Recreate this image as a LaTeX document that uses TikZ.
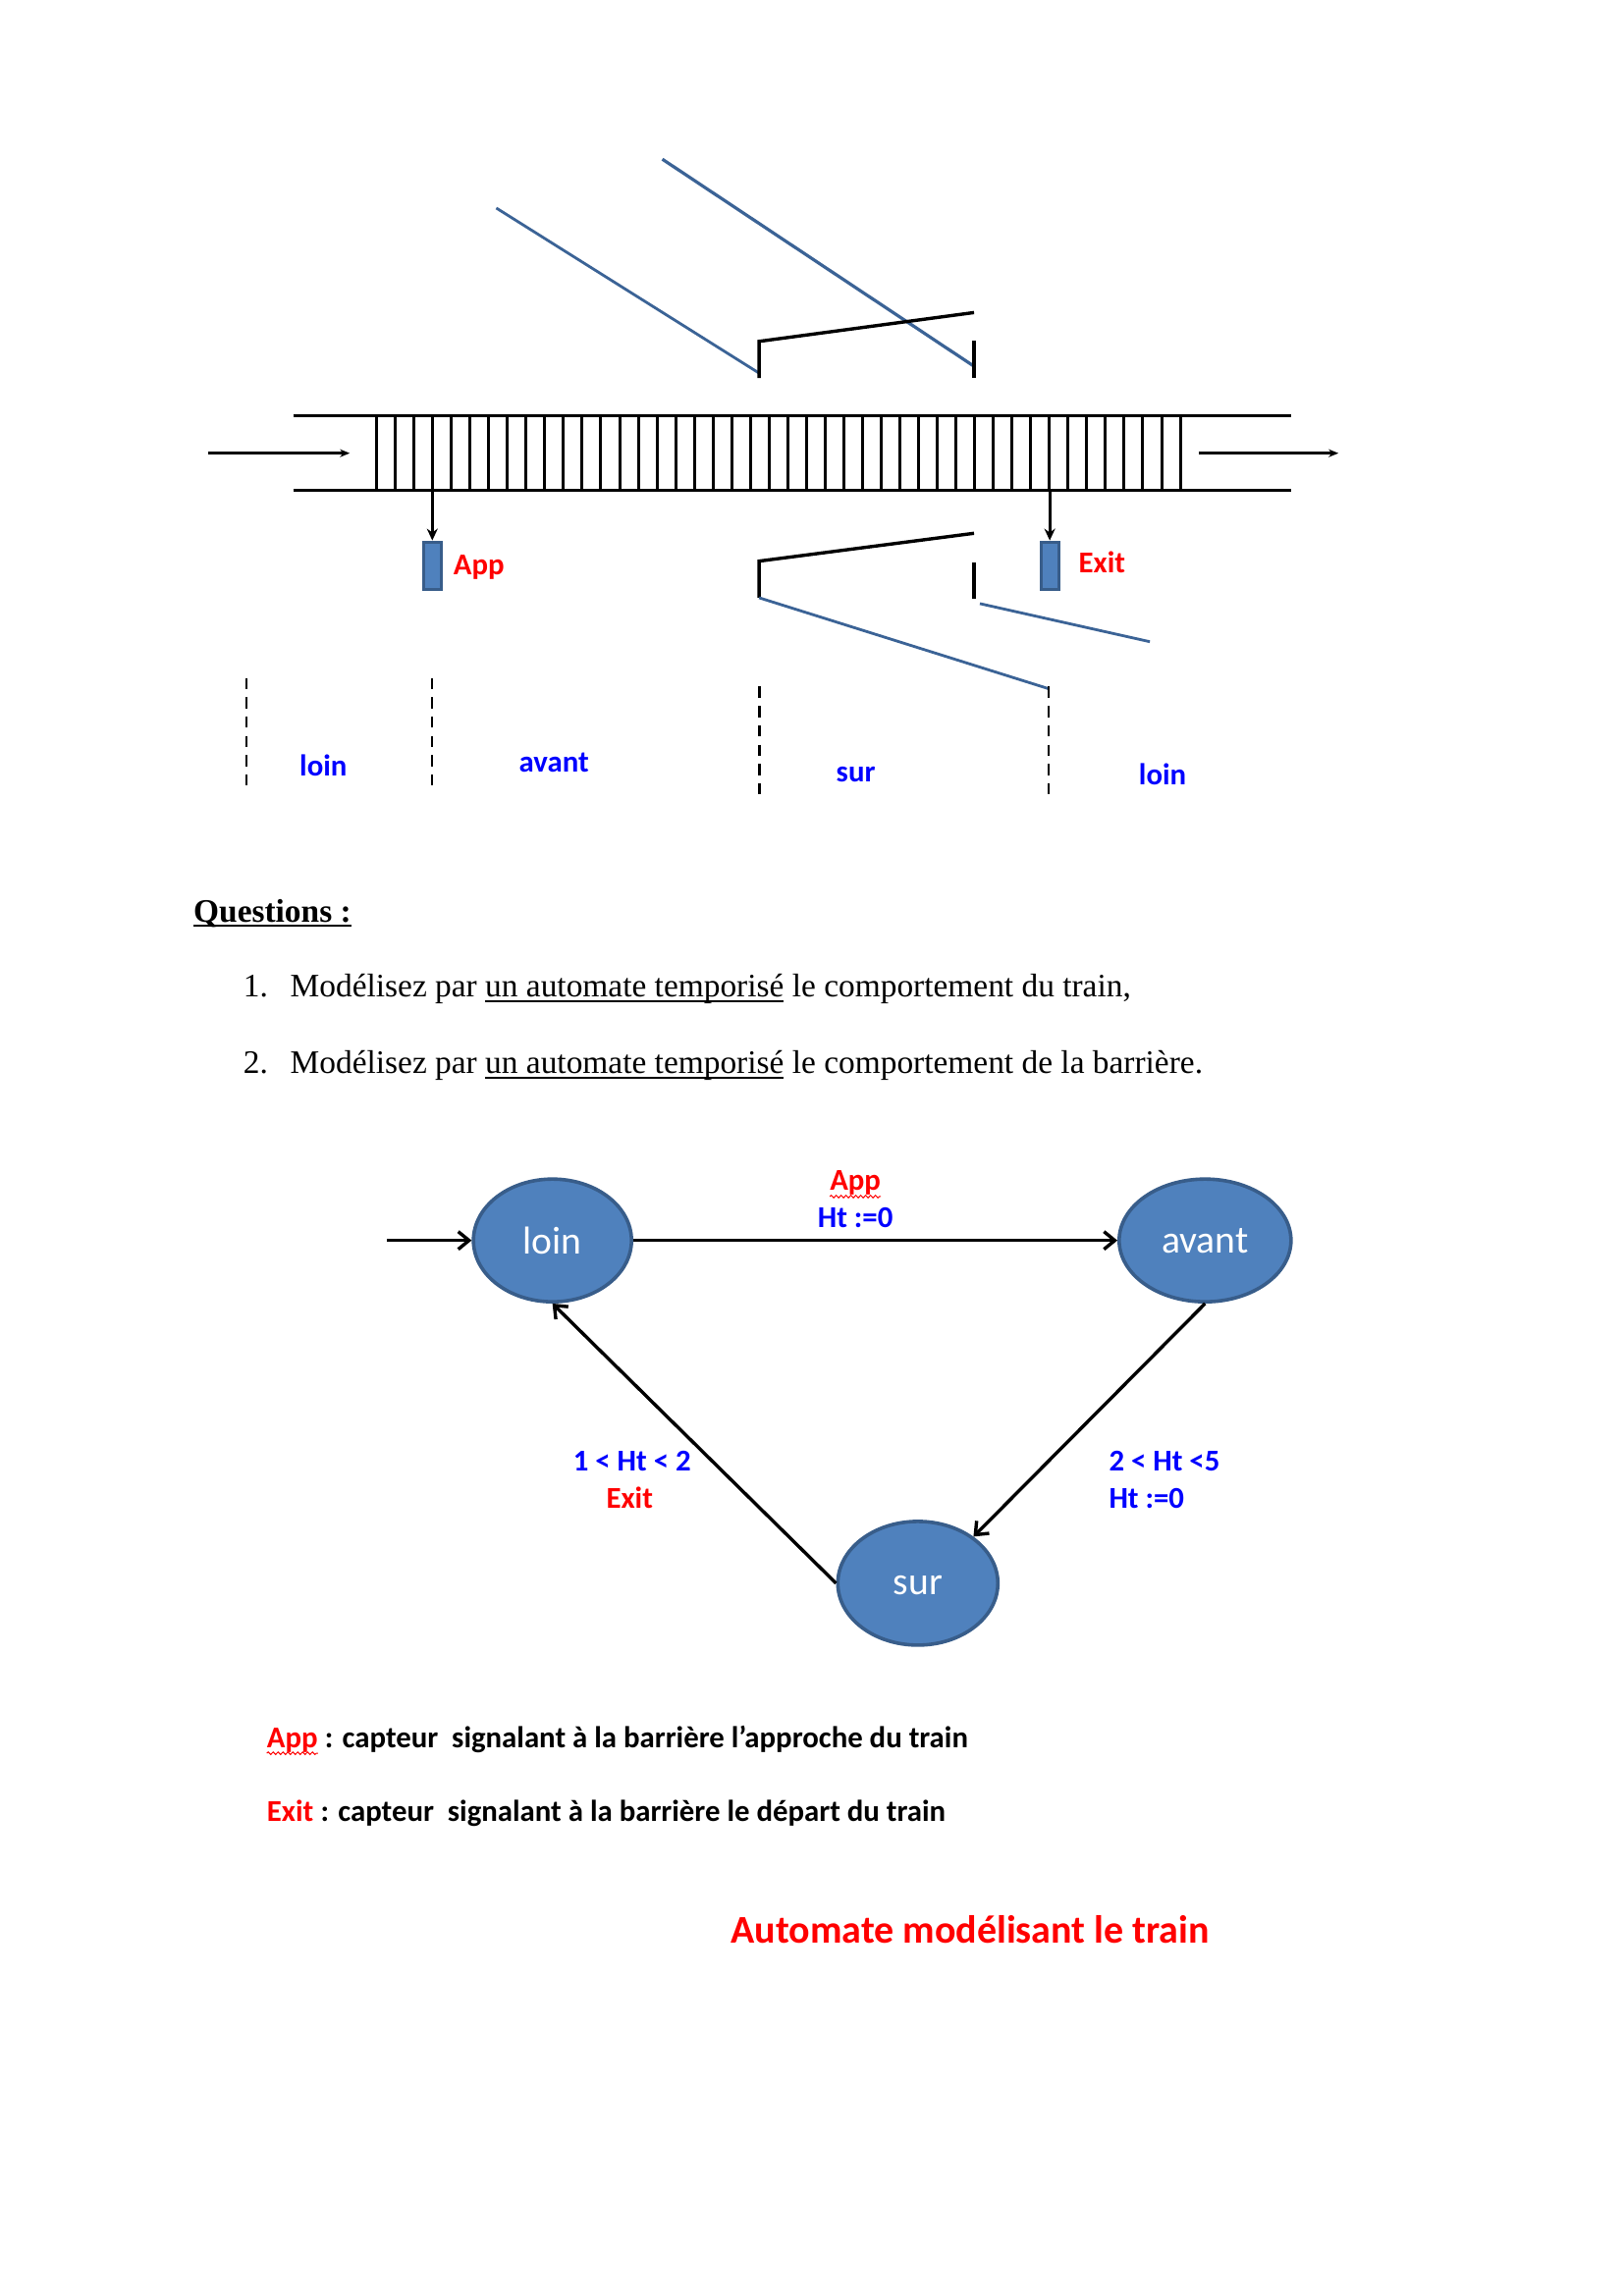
\documentclass[tikz,border=0pt]{standalone}
\usepackage{fontspec}
\setmainfont{Liberation Serif}
\newfontfamily\calfont{Carlito}
\usetikzlibrary{arrows.meta,decorations.pathmorphing,shapes.geometric}
\definecolor{fillblue}{HTML}{4F81BD}
\definecolor{edgeblue}{HTML}{385D8A}
\definecolor{lineblue}{HTML}{3B6396}
\definecolor{labblue}{HTML}{0000FF}
\definecolor{labred}{HTML}{FF0000}
\newcommand\ulx[1]{\setbox0=\hbox{#1}\rlap{\rule[-5pt]{\wd0}{1.8pt}}\box0\relax}
\tikzset{
  rail/.style={line width=3pt,black},
  tie/.style={line width=3pt,black},
  bar/.style={line width=3.4pt,black},
  bluel/.style={line width=2.8pt,lineblue},
  dash1/.style={line width=1.8pt,dash pattern=on 11.5pt off 8.2pt,black},
  dash2/.style={line width=2.8pt,dash pattern=on 11.5pt off 8.2pt,black},
  thin arrow/.style={line width=2.4pt,-{Stealth[length=10pt,width=8pt]}},
  sensor/.style={draw=edgeblue,fill=fillblue,line width=3pt,minimum width=18pt,minimum height=48pt,inner sep=0pt},
  state/.style={ellipse,draw=edgeblue,fill=fillblue,line width=3.6pt,inner sep=0pt,text=white,font=\calfont\fontsize{39.6}{46}\selectfont},
  trans/.style={line width=3.4pt,-{Straight Barb[length=11pt,width=18pt,line width=3.4pt]}},
  lab/.style={inner sep=0pt,font=\calfont\bfseries\fontsize{30.8}{36}\selectfont},
  body/.style={inner sep=0pt,anchor=base west,font=\fontsize{33.4}{40}\selectfont},
  squig/.style={draw=labred,line width=1pt,decorate,decoration={snake,amplitude=1.3pt,segment length=5pt}},
}
\begin{document}
\begin{tikzpicture}[x=0.995pt,y=-0.995pt]
\useasboundingbox (0,0) rectangle (1662.31,2350.75);
\fill[white] (0,0) rectangle (1662.31,2350.75);
% track
\foreach \i in {0,...,43} {\draw[tie] ({385.5+\i*19.13},426) -- ({385.5+\i*19.13},502);}
\draw[rail] (300,426) -- (1322,426);
\draw[rail] (300,502) -- (1322,502);
\coordinate (inA) at (213,464); \coordinate (inB) at (358,464);
\coordinate (outA) at (1227,464); \coordinate (outB) at (1370,464);
\draw[thin arrow] (inA) -- (inB);
\draw[thin arrow] (outA) -- (outB);
% barriers
\draw[bluel] (508,213) -- (777,382);
\draw[bluel,line width=3.2pt] (678,163) -- (997,375);
\draw[bar] (777,387) -- (777,349.5) -- (997,320);
\draw[bar] (997,349) -- (997,387);
\draw[bar] (997,546) -- (777,574.5) -- (777,612);
\draw[bar] (997,576) -- (997,613);
\draw[bluel] (777,612) -- (1073,705);
\draw[bluel] (1003,618) -- (1177,657);
% sensors
\node[sensor] (sApp) at (442.5,579) {};
\node[sensor] (sExit) at (1074.5,579) {};
\coordinate (rApp) at (442.5,502); \coordinate (rExit) at (1074.5,502);
\draw[line width=3pt,-{Stealth[length=12pt,width=11pt]}] (rApp) -- (sApp.north);
\draw[line width=3pt,-{Stealth[length=12pt,width=11pt]}] (rExit) -- (sExit.north);
\node[lab,anchor=base west,text=labred] (tApp) at (464,588) {App};
\node[lab,anchor=base west,text=labred] (tExit) at (1104,586) {Exit};
% dashed limits
\draw[dash1] (252,694) -- (252,804);
\draw[dash1] (442.5,694) -- (442.5,804);
\draw[dash2] (777,703) -- (777,813);
\draw[dash1] (1073,703) -- (1073,813);
\node[lab,anchor=base,text=labblue] (z1) at (331,794) {loin};
\node[lab,anchor=base,text=labblue] (z2) at (567,790) {avant};
\node[lab,anchor=base,text=labblue] (z3) at (876,800) {sur};
\node[lab,anchor=base,text=labblue] (z4) at (1190,804) {loin};
% questions
\node[body,font=\bfseries\fontsize{33.4}{40}\selectfont] (q0) at (198,944) {\ulx{Questions :}};
\node[body] (q1n) at (249,1021) {1.};
\node[body] (q1) at (297,1021) {Modélisez par \ulx{un automate temporisé} le comportement du train,};
\node[body] (q2n) at (249,1099) {2.};
\node[body] (q2) at (297,1099) {Modélisez par \ulx{un automate temporisé} le comportement de la barrière.};
% automaton
\node[state,minimum width=161pt,minimum height=125pt] (loin) at (565.5,1270) {loin};
\node[state,minimum width=175pt,minimum height=125pt] (avant) at (1233.5,1270) {avant};
\node[state,minimum width=163pt,minimum height=126pt] (sur) at (939.5,1621) {\raisebox{-2.5pt}[\height][\depth]{sur}};
\coordinate (init) at (396,1270);
\draw[trans] (init) -- (loin.west);
\draw[trans] (loin.east) -- (avant.west);
\draw[trans] (avant.south) -- (sur.40);
\draw[trans] (sur.west) -- (loin.south);
\node[lab,anchor=base,text=labred] (e1a) at (875.5,1219) {App};
\draw[squig] ([yshift=-6pt]e1a.base west) -- ([yshift=-6pt]e1a.base east);
\node[lab,anchor=base,text=labblue] (e1b) at (875.5,1257) {Ht :=0};
\node[lab,anchor=base,text=labblue] (e2a) at (647,1506) {1 < Ht < 2};
\node[lab,anchor=base,text=labred] (e2b) at (644.5,1544) {Exit};
\node[lab,anchor=base west,text=labblue] (e3a) at (1135,1506) {2 < Ht <5};
\node[lab,anchor=base west,text=labblue] (e3b) at (1135,1544) {Ht :=0};
% legend
\node[lab,anchor=base west,text=labred] (l1a) at (273,1789) {App};
\draw[squig] ([yshift=-6pt]l1a.base west) -- ([yshift=-6pt]l1a.base east);
\node[lab,anchor=base west] (l1b) at (l1a.base east) {\ : capteur\ \ signalant à la barrière l’approche du train};
\node[lab,anchor=base west,text=labred] (l2a) at (273,1865) {Exit};
\node[lab,anchor=base west] (l2b) at (l2a.base east) {\ : capteur\ \ signalant à la barrière le départ du train};
\node[lab,anchor=base west,text=labred,font=\calfont\bfseries\fontsize{40}{46}\selectfont] (cap) at (748,1989) {Automate modélisant le train};
\end{tikzpicture}
\end{document}
